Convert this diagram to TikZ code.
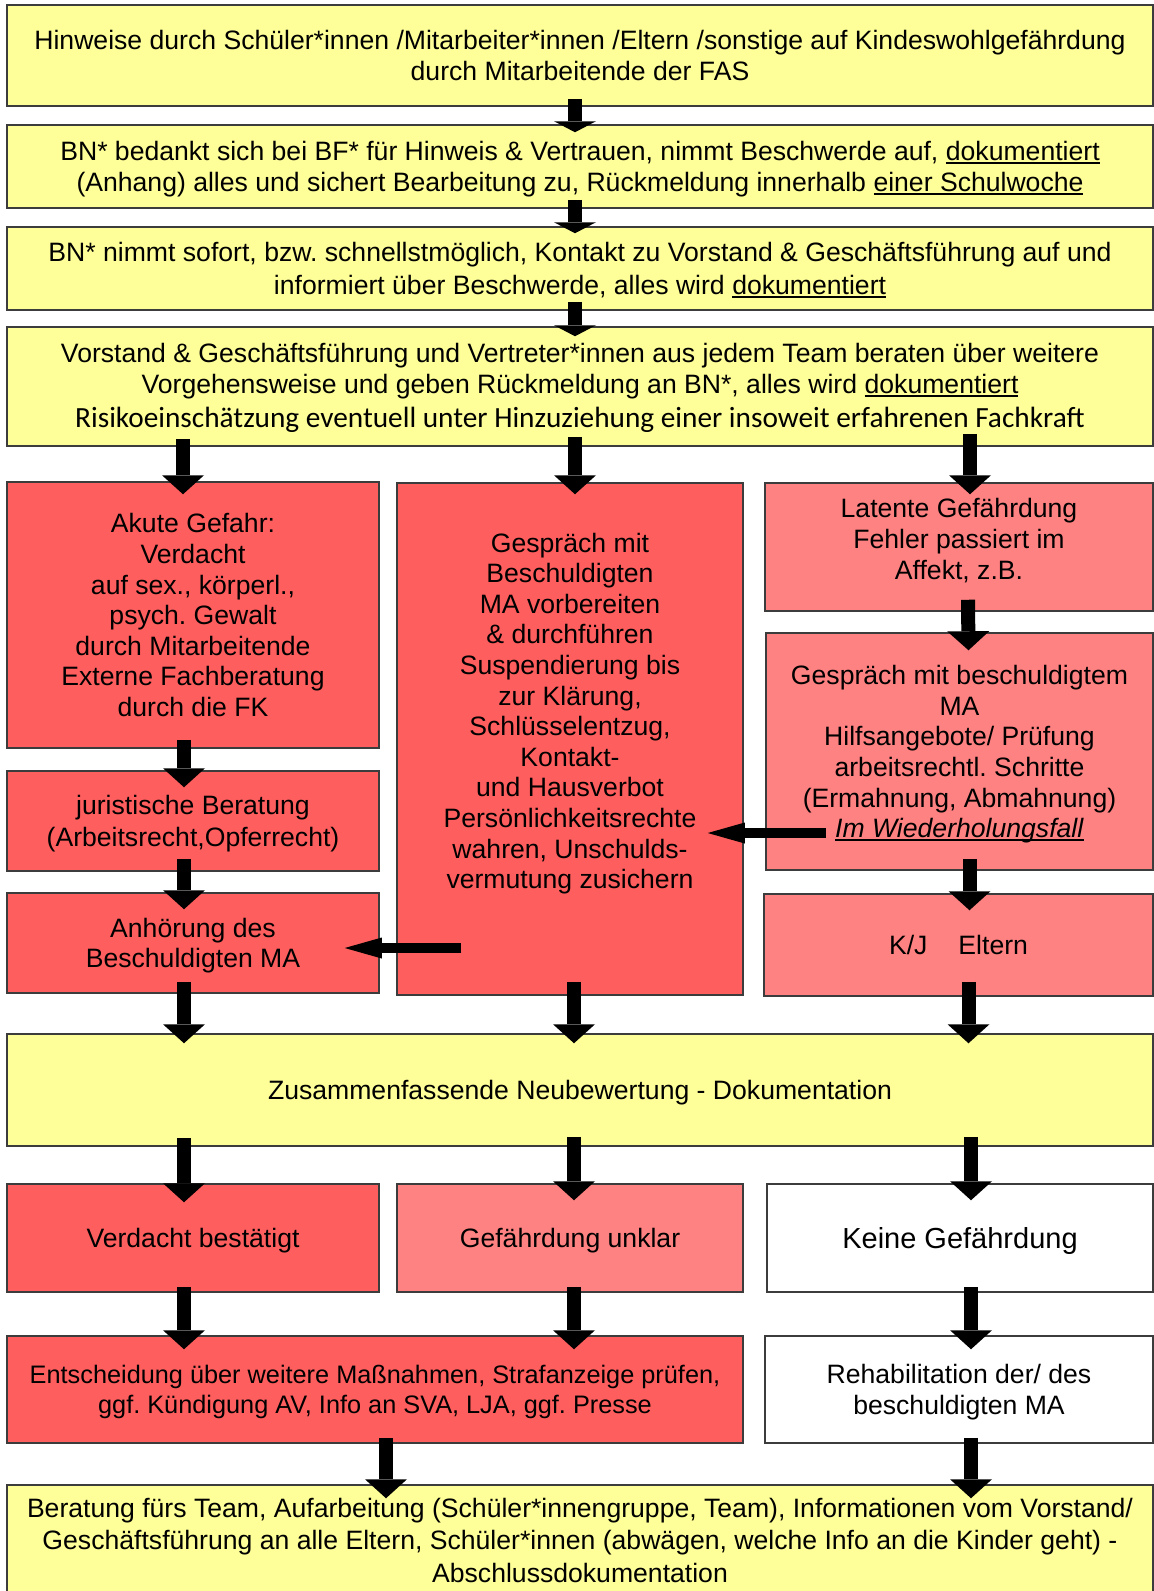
\documentclass[tikz,border=0pt]{standalone}
\usepackage{fontspec}
\setmainfont{Liberation Sans}
\newfontfamily\calfont{Carlito}
\usetikzlibrary{arrows.meta,calc}
\frenchspacing
\newsavebox\myulbox
\newcommand\myul[1]{\sbox\myulbox{#1}\rlap{\rule[-3.2pt]{\wd\myulbox}{1.6pt}}\usebox\myulbox}
\definecolor{ylw}{HTML}{FFFF99}
\definecolor{redA}{HTML}{FF5E5E}
\definecolor{redB}{HTML}{FF8282}
\definecolor{bord}{HTML}{3C3C3C}
\tikzset{
  box/.style={draw=bord, line width=1.5pt, inner sep=0pt, align=center, text=black,
    text depth=0pt, font=\fontsize{26.6}{30.6}\selectfont},
  ybox/.style={box, fill=ylw},
  rbox/.style={box, fill=redA},
  lbox/.style={box, fill=redB},
  wbox/.style={box, fill=white},
  sz/.style 2 args={minimum width=#1pt, minimum height=#2pt},
  darr/.style={line width=14pt, -{Triangle[width=42pt,length=19pt,line width=0pt]}},
  sarr/.style={line width=14pt, -{Triangle[width=42pt,length=11pt,line width=0pt]}},
  harr/.style={line width=10pt, -{Triangle[width=21pt,length=37pt,line width=0pt]}}
}
\begin{document}
\frenchspacing
\begin{tikzpicture}[x=1pt,y=-1pt]
\useasboundingbox (0,0) rectangle (1154,1591);
\fill[white] (0,0) rectangle (1154,1591);

% top boxes
\node[ybox, sz={1146}{101}] (b1) at (580,55.5)
  {Hinweise durch Schüler*innen /Mitarbeiter*innen /Eltern /sonstige auf Kindeswohlgefährdung\\durch Mitarbeitende der FAS};
\node[ybox, sz={1146}{83}] (b2) at (580,166.5)
  {BN* bedankt sich bei BF* für Hinweis \& Vertrauen, nimmt Beschwerde auf, \myul{dokumentiert}\\(Anhang) alles und sichert Bearbeitung zu, Rückmeldung innerhalb \myul{einer Schulwoche}};
\node[ybox, sz={1146}{83}] (b3) at (580,268.5)
  {BN* nimmt sofort, bzw. schnellstmöglich, Kontakt zu Vorstand \& Geschäftsführung auf und\\[2.5pt]informiert über Beschwerde, alles wird \myul{dokumentiert}};
\node[ybox, sz={1146}{119}, text depth=3pt] (b4) at (580,386.5)
  {Vorstand \& Geschäftsführung und Vertreter*innen aus jedem Team beraten über weitere\\[1pt]Vorgehensweise und geben Rückmeldung an BN*, alles wird \myul{dokumentiert}\\[3pt]{\calfont\fontsize{29.3}{30.6}\selectfont Risikoeinschätzung eventuell unter Hinzuziehung einer insoweit erfahrenen Fachkraft}};

% left column
\node[rbox, sz={372}{266}] (akut) at (193,615)
  {Akute Gefahr:\\Verdacht\\auf sex., körperl.,\\psych. Gewalt\\durch Mitarbeitende\\Externe Fachberatung\\durch die FK};
\node[rbox, sz={372}{100}] (jur) at (193,821)
  {juristische Beratung\\[1.5pt](Arbeitsrecht,Opferrecht)};
\node[rbox, sz={372}{100}] (anh) at (193,943)
  {Anhörung des\\Beschuldigten MA};

% middle column
\node[rbox, sz={346}{512},
  label={[align=center, font=\fontsize{26.6}{30.6}\selectfont, yshift=25.5pt]center:Gespräch mit\\Beschuldigten\\MA vorbereiten\\\& durchführen\\Suspendierung bis\\zur Klärung,\\Schlüsselentzug,\\Kontakt-\\und Hausverbot\\Persönlichkeitsrechte\\wahren, Unschulds-\\vermutung zusichern}] (mid) at (570,739) {};

% right column
\node[lbox, sz={388}{128},
  label={[align=center, font=\fontsize{26.6}{30.6}\selectfont, yshift=6.5pt]center:Latente Gefährdung\\Fehler passiert im\\Affekt, z.B.}] (lat) at (959,547) {};
\node[lbox, sz={387}{237}] (gesp) at (959.5,751.5)
  {Gespräch mit beschuldigtem\\MA\\Hilfsangebote/ Prüfung\\arbeitsrechtl. Schritte\\(Ermahnung, Abmahnung)\\\myul{\textit{Im Wiederholungsfall}}};
\node[lbox, sz={389}{102}] (kj) at (958.5,945)
  {K/J\hspace{31pt}Eltern};

% summary
\node[ybox, sz={1146}{112}] (zus) at (580,1090)
  {Zusammenfassende Neubewertung - Dokumentation};

% outcome row
\node[rbox, sz={372}{108}] (verd) at (193,1238) {Verdacht bestätigt};
\node[lbox, sz={346}{108}] (gefu) at (570,1238) {Gefährdung unklar};
\node[wbox, sz={386}{108}, font=\fontsize{29}{33}\selectfont] (keine) at (960,1238) {Keine Gefährdung};

% measures row
\node[rbox, sz={736}{107}, font=\fontsize{25.3}{29.4}\selectfont] (ent) at (375,1389.5)
  {Entscheidung über weitere Maßnahmen, Strafanzeige prüfen,\\ggf. Kündigung AV, Info an SVA, LJA, ggf. Presse};
\node[wbox, sz={388}{107}] (reha) at (959,1389.5)
  {Rehabilitation der/ des\\[1pt]beschuldigten MA};

% final
\node[ybox, sz={1146}{110}] (ber) at (580,1540)
  {Beratung fürs Team, Aufarbeitung (Schüler*innengruppe, Team), Informationen vom Vorstand/\\[2pt]Geschäftsführung an alle Eltern, Schüler*innen (abwägen, welche Info an die Kinder geht) -\\[2pt]Abschlussdokumentation};

% arrows
\draw[sarr] ($(b1.south)+(-5,-8)$) -- ($(b2.north)+(-5,8)$);
\draw[sarr] ($(b2.south)+(-5,-9)$) -- ($(b3.north)+(-5,7)$);
\draw[sarr] ($(b3.south)+(-5,-9)$) -- ($(b4.north)+(-5,10)$);

\draw[darr] ($(b4.south -| akut.north)+(-10,-8)$) -- ($(akut.north)+(-10,13)$);
\draw[darr] ($(b4.south -| mid.north)+(5,-10)$) -- ($(mid.north)+(5,12)$);
\draw[darr] ($(b4.south -| lat.north)+(11,-13)$) -- ($(lat.north)+(11,12)$);

\draw[darr] ($(akut.south)+(-9,-9)$) -- ($(jur.north)+(-9,17)$);
\draw[darr] ($(jur.south)+(-9,-13)$) -- ($(anh.north)+(-9,17)$);
\draw[darr] ($(lat.south)+(9,-12)$) -- ($(gesp.north)+(9,18)$);
\draw[darr] ($(gesp.south)+(10,-12)$) -- ($(kj.north)+(11,17)$);

\draw[harr] ($(mid.west |- anh.east)+(65,5)$) -- ($(anh.east)+(-35,5)$);
\draw[harr] ($(gesp.west)+(61,81.5)$) -- ($(mid.east |- gesp.west)+(-36,81.5)$);

\draw[darr] ($(anh.south)+(-9,-12)$) -- ($(zus.north -| anh.south)+(-9,10)$);
\draw[darr] ($(mid.south)+(4,-14)$) -- ($(zus.north -| mid.south)+(4,10)$);
\draw[darr] ($(kj.south)+(10,-15)$) -- ($(zus.north -| kj.south)+(10,10)$);

\draw[darr] ($(zus.south -| verd.north)+(-9,-9)$) -- ($(verd.north)+(-9,19)$);
\draw[darr] ($(zus.south -| gefu.north)+(4,-10)$) -- ($(gefu.north)+(4,17)$);
\draw[darr] ($(zus.south -| keine.north)+(11,-10)$) -- ($(keine.north)+(11,17)$);

\draw[darr] ($(verd.south)+(-9,-6)$) -- ($(ent.north -| verd.south)+(-9,14)$);
\draw[darr] ($(gefu.south)+(4,-6)$) -- ($(ent.north -| gefu.south)+(4,14)$);
\draw[darr] ($(keine.south)+(11,-6)$) -- ($(reha.north)+(12,14)$);

\draw[darr] ($(ent.south)+(11,-6)$) -- ($(ber.north -| ent.south)+(11,14)$);
\draw[darr] ($(reha.south)+(12,-6)$) -- ($(ber.north -| reha.south)+(12,14)$);
\end{tikzpicture}
\end{document}
